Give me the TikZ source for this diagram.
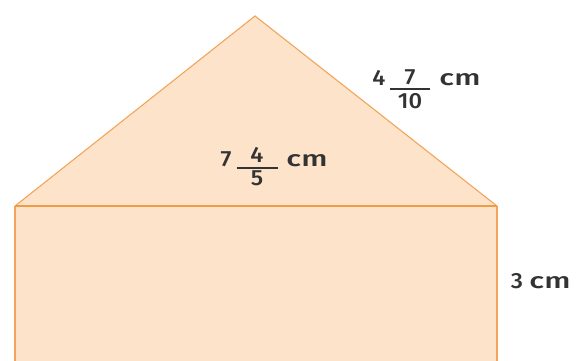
\documentclass[tikz,border=0pt]{standalone}
\usepackage{fontspec}
\setmainfont{Fira Sans}[UprightFont={* Medium}]
\begin{document}
\begin{tikzpicture}[x=1pt,y=1pt,
  shapefill/.style={fill=peach},
  edge/.style={draw=edgeorange,line width=1.1pt},
  baseedge/.style={draw=baseorange,line width=2.6pt},
  txt/.style={text=textgray,font=\fontsize{22}{25}\selectfont,inner sep=0pt,anchor=base,xscale=1.08},
  unit/.style={txt,xscale=1.3},
  bar/.style={draw=textgray,line width=2.2pt}]
\definecolor{peach}{HTML}{FDE3C9}
\definecolor{edgeorange}{HTML}{F2A55A}
\definecolor{baseorange}{HTML}{EE9C45}
\definecolor{textgray}{HTML}{333333}
\useasboundingbox (0,0) rectangle (579,361);
\coordinate (apex) at (255,345);
\coordinate (bl) at (15,155);
\coordinate (br) at (497,155);
\coordinate (rbl) at (15,-2);
\coordinate (rbr) at (497,-2);
\fill[shapefill] (bl) -- (rbl) -- (rbr) -- (br) -- cycle;
\fill[shapefill] (bl) -- (apex) -- (br) -- cycle;
\draw[edge] (rbl) -- (bl);
\draw[edge] (rbr) -- (br);
\draw[edge,line join=miter] (bl) -- (apex) -- (br);
\draw[baseedge] (bl) -- (br);
% slant label
\node[txt] (sw) at (379,275) {4};
\node[txt] (sn) at (410,276) {7};
\node[txt] (sd) at (410,252) {10};
\node[unit] (su) at (460,275) {cm};
\coordinate (sbl) at (390,272);
\coordinate (sbr) at (430,272);
\draw[bar] (sbl) -- (sbr);
% base label
\node[txt] (bw) at (226,194) {7};
\node[txt] (bn) at (257,198) {4};
\node[txt] (bd) at (257,175) {5};
\node[unit] (bu) at (307,194) {cm};
\coordinate (bbl) at (237,193);
\coordinate (bbr) at (278,193);
\draw[bar] (bbl) -- (bbr);
% height label
\node[txt] (hn) at (517,72) {3};
\node[unit] (hu) at (550,72) {cm};
\end{tikzpicture}
\end{document}
